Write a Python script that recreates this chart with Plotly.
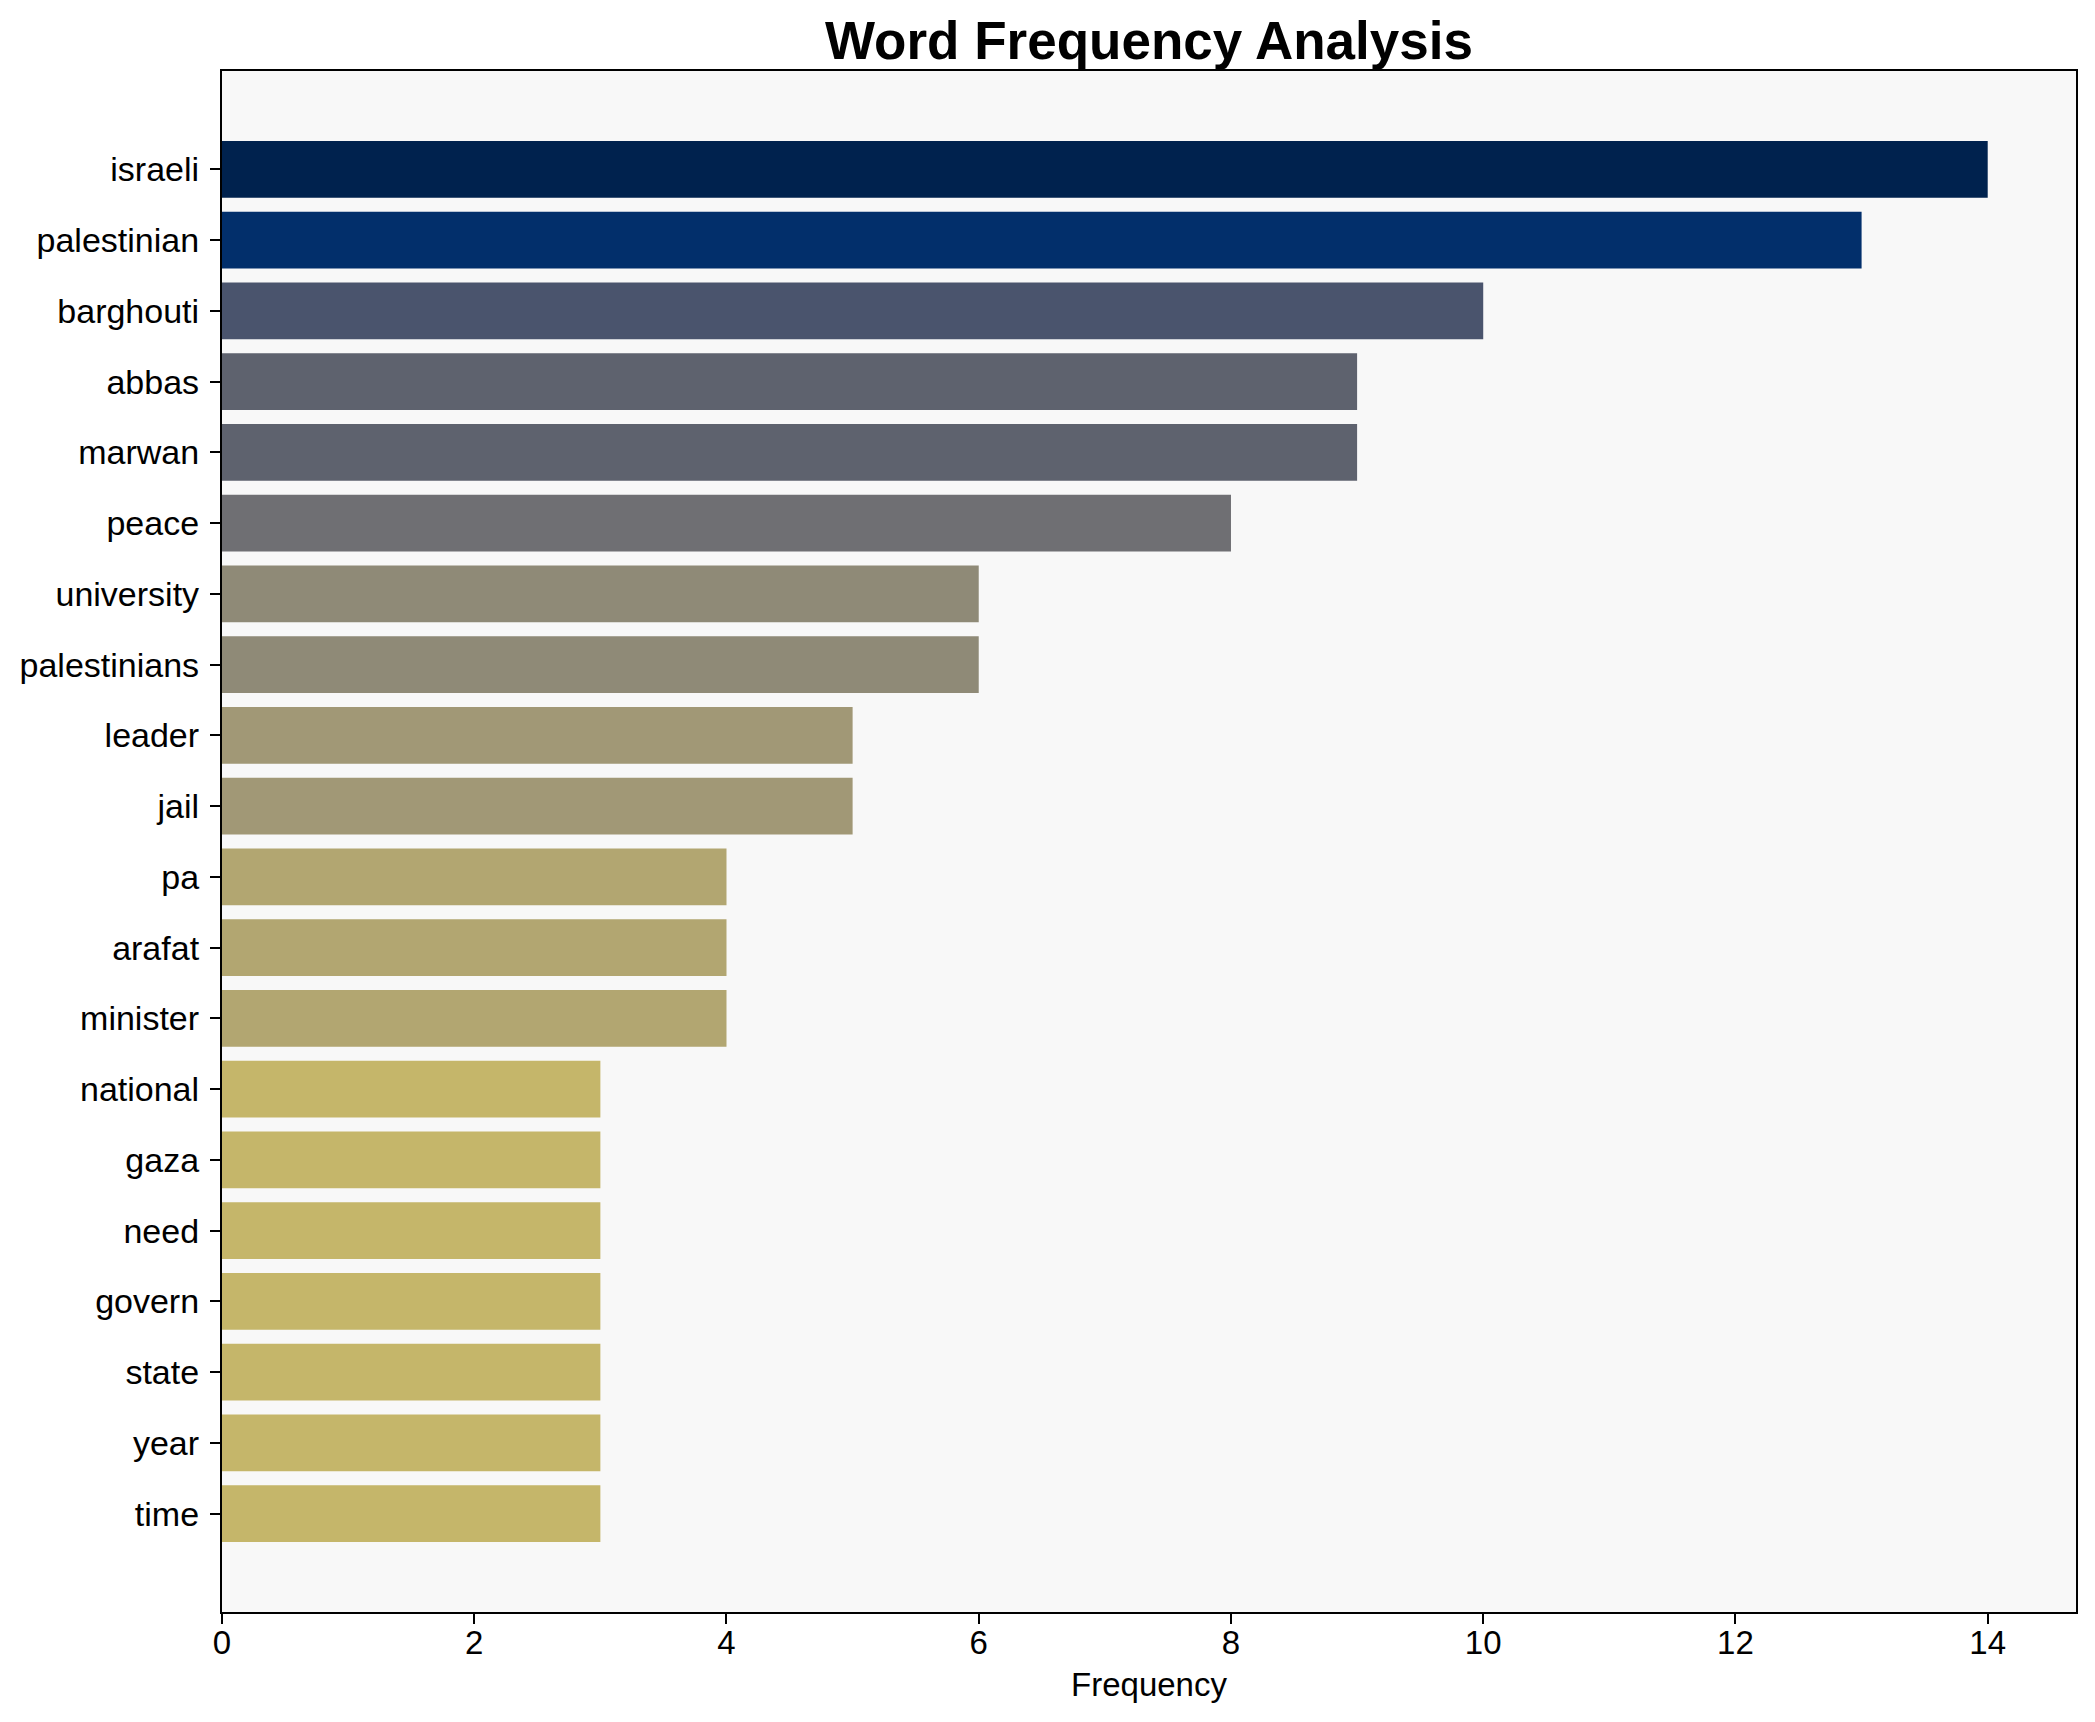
import plotly.graph_objects as go

words = ["israeli", "palestinian", "barghouti", "abbas", "marwan", "peace",
         "university", "palestinians", "leader", "jail", "pa", "arafat",
         "minister", "national", "gaza", "need", "govern", "state", "year", "time"]
counts = [14, 13, 10, 9, 9, 8, 6, 6, 5, 5, 4, 4, 4, 3, 3, 3, 3, 3, 3, 3]

# colour per frequency (cividis-like)
color_by_count = {
    14: "#00224e", 13: "#022f6b", 10: "#4a546d", 9: "#5e626e", 8: "#6f6f73",
    6: "#8f8a77", 5: "#a19876", 4: "#b2a671", 3: "#c5b66a",
}
bar_colors = [color_by_count[c] for c in counts]

FONT = "Liberation Sans, Arial, sans-serif"

fig = go.Figure(go.Bar(
    x=counts, y=words, orientation="h",
    marker=dict(color=bar_colors, line=dict(width=0)),
    width=0.8,
))

W, H = 2087, 1714
n = len(words)
fig.update_layout(
    width=W, height=H,
    margin=dict(l=208, r=19, t=63, b=110),
    paper_bgcolor="white",
    plot_bgcolor="#f8f8f8",
    showlegend=False,
    font=dict(family=FONT, size=34, color="black"),
    title=dict(text="<b>Word Frequency Analysis</b>", x=0.5,
               xanchor="center", xref="paper", yref="container",
               y=1 - 32 / H, yanchor="middle",
               font=dict(family=FONT, size=53, color="black")),
)
fig.update_xaxes(
    range=[0, 14.7], dtick=2, tick0=0,
    showgrid=False, zeroline=False,
    showline=True, linecolor="black", linewidth=2.2, mirror=True,
    ticks="outside", ticklen=10, tickwidth=2.2, tickcolor="black",
    tickfont=dict(size=33), ticklabelstandoff=-10,
    title=dict(text="Frequency", font=dict(size=33), standoff=13),
)
fig.update_yaxes(
    type="category", categoryorder="array", categoryarray=words,
    range=[n - 1 + 1.39, -1.39],
    showgrid=False, zeroline=False,
    showline=True, linecolor="black", linewidth=2.2, mirror=True,
    ticks="outside", ticklen=10, tickwidth=2.2, tickcolor="black",
    tickfont=dict(size=34), ticklabelstandoff=4,
)

fig.write_html("out.html")
